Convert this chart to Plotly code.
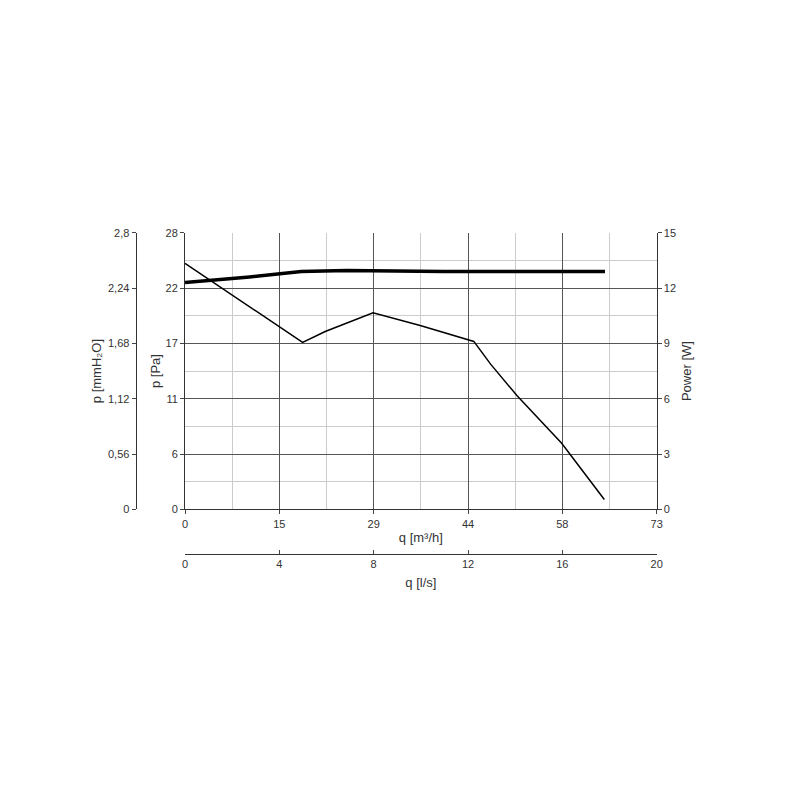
import plotly.graph_objects as go

# curve data
q_pressure = [0, 18.2, 21.7, 29.1, 36.4, 44.7, 47.3, 51.4, 58.3, 64.9]
p_pa = [24.9, 16.9, 18.0, 19.9, 18.6, 17.0, 14.7, 11.5, 6.7, 1.0]

q_power = [0, 10, 18, 25, 40, 65]
power_w = [12.3, 12.6, 12.9, 12.95, 12.9, 12.9]

x_ticks = [0, 14.6, 29.2, 43.8, 58.4, 73]
x_labels = ["0", "15", "29", "44", "58", "73"]
pa_ticks = [0, 5.6, 11.2, 16.8, 22.4, 28]
pa_labels = ["0", "6", "11", "17", "22", "28"]
mm_ticks = [0, 0.56, 1.12, 1.68, 2.24, 2.8]
mm_labels = ["0", "0,56", "1,12", "1,68", "2,24", "2,8"]
ls_ticks = [0, 4, 8, 12, 16, 20]

font = dict(family="Arial, Liberation Sans", size=11, color="#333")

fig = go.Figure()
fig.add_trace(go.Scatter(x=q_pressure, y=p_pa, mode="lines",
                         line=dict(color="black", width=1.5), showlegend=False))
fig.add_trace(go.Scatter(x=q_power, y=power_w, mode="lines", yaxis="y2",
                         line=dict(color="black", width=3.5), showlegend=False))
# dummy traces to show the extra axes
fig.add_trace(go.Scatter(x=[0], y=[0], yaxis="y3", mode="markers",
                         marker=dict(opacity=0), showlegend=False, hoverinfo="skip"))
fig.add_trace(go.Scatter(x=[0], y=[0], xaxis="x2", mode="markers",
                         marker=dict(opacity=0), showlegend=False, hoverinfo="skip"))

grid = dict(showgrid=True, gridcolor="#555", gridwidth=1)
minor_x = [7.3 + 14.6 * i for i in range(5)]
minor_y = [2.8 + 5.6 * i for i in range(5)]

fig.update_layout(
    width=800, height=800, paper_bgcolor="white", plot_bgcolor="white",
    margin=dict(l=0, r=0, t=0, b=0), font=font,
    xaxis=dict(domain=[0.22, 0.81625], range=[0, 73], tickvals=x_ticks, ticktext=x_labels,
               title=dict(text="q [m³/h]", standoff=4), zeroline=False,
               showline=True, linecolor="#333", ticks="outside", ticklen=4,
               minor=dict(tickvals=minor_x, showgrid=True, gridcolor="#ccc"), **grid),
    yaxis=dict(domain=[0.37125, 0.7225], range=[0, 28], tickvals=pa_ticks, ticktext=pa_labels,
               title=dict(text="p [Pa]", standoff=2), zeroline=False,
               showline=True, linecolor="#333", ticks="outside", ticklen=4,
               minor=dict(tickvals=minor_y, showgrid=True, gridcolor="#ccc"), **grid),
    yaxis2=dict(overlaying="y", side="right", range=[0, 15], tickvals=[0, 3, 6, 9, 12, 15],
                showgrid=False, zeroline=False, showline=True, linecolor="#333",
                ticks="outside", ticklen=4, title=dict(text="Power [W]", standoff=6)),
    yaxis3=dict(overlaying="y", anchor="free", position=0.1575, range=[0, 2.8],
                tickvals=mm_ticks, ticktext=mm_labels, showgrid=False, zeroline=False,
                showline=True, linecolor="#333", ticks="outside", ticklen=4,
                title=dict(text="p [mmH₂O]", standoff=2)),
    xaxis2=dict(overlaying="x", anchor="free", position=0.315, range=[0, 20],
                tickvals=ls_ticks, showgrid=False, zeroline=False, showline=True,
                linecolor="#333", ticks="inside", ticklen=4, side="bottom",
                title=dict(text="q [l/s]", standoff=8)),
)

fig.write_html("out.html")
